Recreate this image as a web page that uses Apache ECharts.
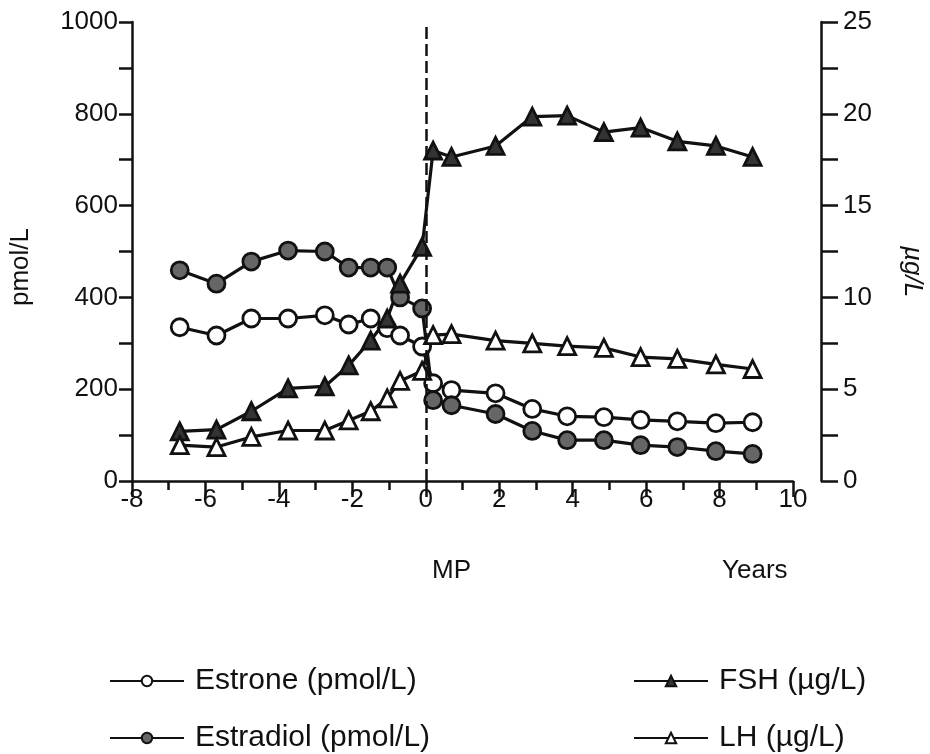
<!DOCTYPE html>
<html>
<head>
<meta charset="utf-8">
<script src="https://cdn.jsdelivr.net/npm/echarts@6/dist/echarts.min.js"></script>
<style>
html,body{margin:0;padding:0;background:#fff;}
#chart{width:930px;height:754px;}
</style>
</head>
<body>
<div id="chart"></div>
<script>
// Time relative to menopause (years)
var years = [-6.7,-5.7,-4.75,-3.75,-2.75,-2.1,-1.5,-1.05,-0.7,-0.1, 0.2,0.7,1.9,2.9,3.85,4.85,5.85,6.85,7.9,8.9];
// pmol/L (left axis)
var estrone   = [335,317,354,354,361,341,354,333,317,293, 213,198,191,157,141,139,133,130,126,128];
var estradiol = [459,430,478,502,500,465,465,465,400,376, 176,165,146,109,89,89,78,74,65,59];
// µg/L (right axis)
var fsh = [2.7,2.8,3.8,5.05,5.15,6.3,7.65,8.85,10.75,12.75, 18.0,17.65,18.25,19.85,19.9,19.0,19.25,18.5,18.25,17.65];
var lh  = [1.95,1.85,2.4,2.75,2.75,3.3,3.8,4.5,5.45,6.0, 7.95,8.0,7.65,7.5,7.35,7.25,6.75,6.65,6.35,6.1];
var leftTicks = [0,200,400,600,800,1000];
var rightTicks = [0,5,10,15,20,25];
var xTicks = [-8,-6,-4,-2,0,2,4,6,8,10];

var names = ['Estrone (pmol/L)','Estradiol (pmol/L)','FSH (\u00b5g/L)','LH (\u00b5g/L)'];

function pairs(v){ return years.map(function(x,i){ return [x, v[i]]; }); }

var FONT = '"Liberation Sans", Arial, sans-serif';
var INK = '#111';

var chart = echarts.init(document.getElementById('chart'));
var lineW = 3.2;
function mk(name, data, yIdx, symbol, fill){
  return {
    name: name, type: 'line', yAxisIndex: yIdx, data: data,
    symbol: symbol, symbolSize: 17, showSymbol: true,
    lineStyle: {color: INK, width: lineW},
    itemStyle: {color: fill, borderColor: INK, borderWidth: 2.8},
    emphasis: {disabled: true}, z: 3
  };
}
var series = [
  mk(names[0], pairs(estrone), 0, 'circle', '#ffffff'),
  mk(names[1], pairs(estradiol), 0, 'circle', '#666666'),
  mk(names[2], pairs(fsh), 1, 'triangle', '#333333'),
  mk(names[3], pairs(lh), 1, 'triangle', '#ffffff')
];
series[0].markLine = {
  silent: true, symbol: 'none', label: {show: false},
  lineStyle: {color: INK, width: 2.5, type: [12, 5]},
  data: [{xAxis: 0}]
};

function legendItem(name, left, top){
  return {
    data: [name], orient: 'horizontal', left: left, top: top,
    itemWidth: 74, itemHeight: 13, selectedMode: false,
    textStyle: {color: INK, fontFamily: FONT, fontSize: 30, padding: [0,0,0,6]}
  };
}

chart.setOption({
  animation: false,
  backgroundColor: '#fff',
  grid: {left: 132, right: 137, top: 22, bottom: 273, containLabel: false},
  xAxis: {
    type: 'value', min: -8, max: 10, interval: 2,
    axisLine: {show: true, onZero: false, lineStyle: {color: INK, width: 2.5}},
    axisTick: {show: true, length: 16, lineStyle: {color: INK, width: 2.5}},
    minorTick: {show: true, splitNumber: 2, length: 9, lineStyle: {color: INK, width: 2.5}},
    splitLine: {show: false},
    axisLabel: {color: INK, fontFamily: FONT, fontSize: 26, margin: 6,
      formatter: function(v){ return xTicks.indexOf(v) >= 0 ? String(v) : ''; }}
  },
  yAxis: [{
    type: 'value', position: 'left', min: 0, max: 1000, interval: 200,
    axisLine: {show: true, onZero: false, lineStyle: {color: INK, width: 2.5}},
    axisTick: {show: true, length: 13, lineStyle: {color: INK, width: 2.5}},
    minorTick: {show: true, splitNumber: 2, length: 13, lineStyle: {color: INK, width: 2.5}},
    splitLine: {show: false},
    axisLabel: {color: INK, fontFamily: FONT, fontSize: 26, margin: 14,
      formatter: function(v){ return leftTicks.indexOf(v) >= 0 ? String(v) : ''; }}
  }, {
    type: 'value', position: 'right', offset: 28, min: 0, max: 25, interval: 5,
    axisLine: {show: true, onZero: false, lineStyle: {color: INK, width: 2.5}},
    axisTick: {show: true, length: 17, lineStyle: {color: INK, width: 2.5}},
    minorTick: {show: true, splitNumber: 2, length: 17, lineStyle: {color: INK, width: 2.5}},
    splitLine: {show: false},
    axisLabel: {color: INK, fontFamily: FONT, fontSize: 26, margin: 22,
      formatter: function(v){ return rightTicks.indexOf(v) >= 0 ? String(v) : ''; }}
  }],
  legend: [
    legendItem(names[0], 104, 661),
    legendItem(names[1], 104, 718),
    legendItem(names[2], 628, 661),
    legendItem(names[3], 628, 718)
  ],
  graphic: [
    {type: 'text', left: 432, top: 558, style: {text: 'MP', fill: INK, font: '26px ' + FONT}},
    {type: 'text', left: 722, top: 558, style: {text: 'Years', fill: INK, font: '26px ' + FONT}},
    {type: 'text', x: 8, y: 306, rotation: Math.PI / 2,
      style: {text: 'pmol/L', fill: INK, font: '26px ' + FONT}},
    {type: 'text', x: 925, y: 246, rotation: -Math.PI / 2,
      style: {text: '\u00b5g/L', fill: INK, font: 'italic 26px ' + FONT}}
  ],
  series: series
});
</script>
</body>
</html>
